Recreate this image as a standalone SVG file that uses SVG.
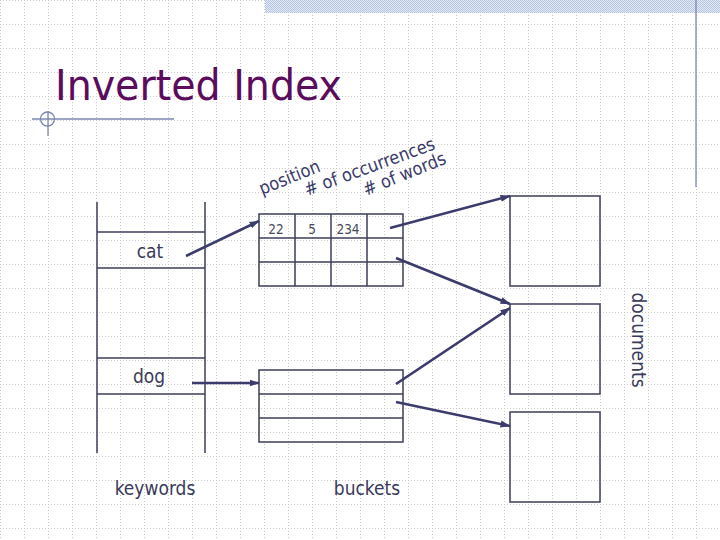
<svg xmlns="http://www.w3.org/2000/svg" width="720" height="540" viewBox="0 0 720 540">
<defs>
<pattern id="grid" width="24" height="24" patternUnits="userSpaceOnUse">
<path d="M0 0.5H24 M0.5 0V24" stroke="#c9c9c9" stroke-width="1" stroke-dasharray="1 2" fill="none"/>
</pattern>
<pattern id="check" width="2" height="2" patternUnits="userSpaceOnUse">
<rect width="2" height="2" fill="#e4eaf5"/>
<rect width="1" height="1" fill="#b4c4e2"/>
<rect x="1" y="1" width="1" height="1" fill="#b4c4e2"/>
</pattern>
<marker id="ah" markerWidth="10" markerHeight="8" refX="9.5" refY="4" orient="auto" markerUnits="userSpaceOnUse">
<path d="M0 0.5L10 4L0 7.5Z" fill="#3c3c6c"/>
</marker>
<style>
.box{fill:none;stroke:#3e3e58;stroke-width:1.5}
.ln{stroke:#3e3e58;stroke-width:1.5;fill:none}
.arr{stroke:#3c3c6c;stroke-width:2.6;fill:none;marker-end:url(#ah)}
.lbl{font-family:"DejaVu Sans Condensed","DejaVu Sans",Verdana,sans-serif;font-size:19px;fill:#3a3a5a}
.rot{font-family:"DejaVu Sans Condensed","DejaVu Sans",Verdana,sans-serif;font-size:18px;fill:#3a3a6a}
.num{font-family:"DejaVu Sans Condensed","DejaVu Sans",Verdana,sans-serif;font-size:13.5px;fill:#4a4a5a;text-anchor:middle}
.deco{stroke:#7b87b0;stroke-width:1.3;fill:none}
</style>
</defs>
<rect width="720" height="540" fill="#ffffff"/>
<rect width="720" height="540" fill="url(#grid)"/>
<rect x="265" y="0" width="455" height="13" fill="url(#check)"/>
<line class="deco" x1="696" y1="0" x2="696" y2="187"/>
<g id="decoration">
<line class="deco" x1="32" y1="119" x2="174" y2="119"/>
<circle class="deco" cx="47.5" cy="119" r="7"/>
<line class="deco" x1="48" y1="111" x2="48" y2="136"/>
</g>
<text id="title" x="55" y="100" font-family="'DejaVu Sans Condensed','DejaVu Sans',Verdana,sans-serif" font-size="42" fill="#5c0c5c" textLength="287" lengthAdjust="spacingAndGlyphs">Inverted Index</text>

<g id="keywords">
<line class="ln" x1="97" y1="202" x2="97" y2="453"/>
<line class="ln" x1="205" y1="202" x2="205" y2="453"/>
<line class="ln" x1="97" y1="232" x2="205" y2="232"/>
<line class="ln" x1="97" y1="268" x2="205" y2="268"/>
<line class="ln" x1="97" y1="358" x2="205" y2="358"/>
<line class="ln" x1="97" y1="394" x2="205" y2="394"/>
<text class="lbl" x="150" y="258" text-anchor="middle">cat</text>
<text class="lbl" x="149" y="383" text-anchor="middle">dog</text>
<text class="lbl" x="155" y="495" text-anchor="middle">keywords</text>
</g>

<g id="bucket-cat">
<rect class="box" x="259" y="214" width="144" height="72"/>
<line class="ln" x1="259" y1="238" x2="403" y2="238"/>
<line class="ln" x1="259" y1="262" x2="403" y2="262"/>
<line class="ln" x1="295" y1="214" x2="295" y2="286"/>
<line class="ln" x1="331" y1="214" x2="331" y2="286"/>
<line class="ln" x1="367" y1="214" x2="367" y2="286"/>
<text class="num" x="276" y="234">22</text>
<text class="num" x="312" y="234">5</text>
<text class="num" x="348" y="234">234</text>
</g>

<g id="bucket-dog">
<rect class="box" x="259" y="370" width="144" height="72"/>
<line class="ln" x1="259" y1="394" x2="403" y2="394"/>
<line class="ln" x1="259" y1="418" x2="403" y2="418"/>
</g>
<text class="lbl" x="367" y="495" text-anchor="middle">buckets</text>

<g id="labels">
<text class="rot" x="262" y="195" transform="rotate(-22 262 195)">position</text>
<text class="rot" x="307" y="196" transform="rotate(-20 307 196)"># of occurrences</text>
<text class="rot" x="366" y="196" transform="rotate(-22 366 196)"># of words</text>
</g>

<g id="doc1"><rect class="box" x="510" y="196" width="90" height="90"/></g>
<g id="doc2"><rect class="box" x="510" y="304" width="90" height="90"/></g>
<g id="doc3"><rect class="box" x="510" y="412" width="90" height="90"/></g>
<text class="lbl" x="0" y="0" transform="translate(632 340) rotate(90)" text-anchor="middle">documents</text>

<g id="connectors">
<line class="arr" x1="186" y1="256" x2="259" y2="221"/>
<line class="arr" x1="192" y1="383" x2="259" y2="383"/>
<line class="arr" x1="390" y1="228" x2="510" y2="196"/>
<line class="arr" x1="396" y1="258" x2="510" y2="304"/>
<line class="arr" x1="396" y1="384" x2="510" y2="308"/>
<line class="arr" x1="396" y1="402" x2="510" y2="426"/>
</g>
</svg>
